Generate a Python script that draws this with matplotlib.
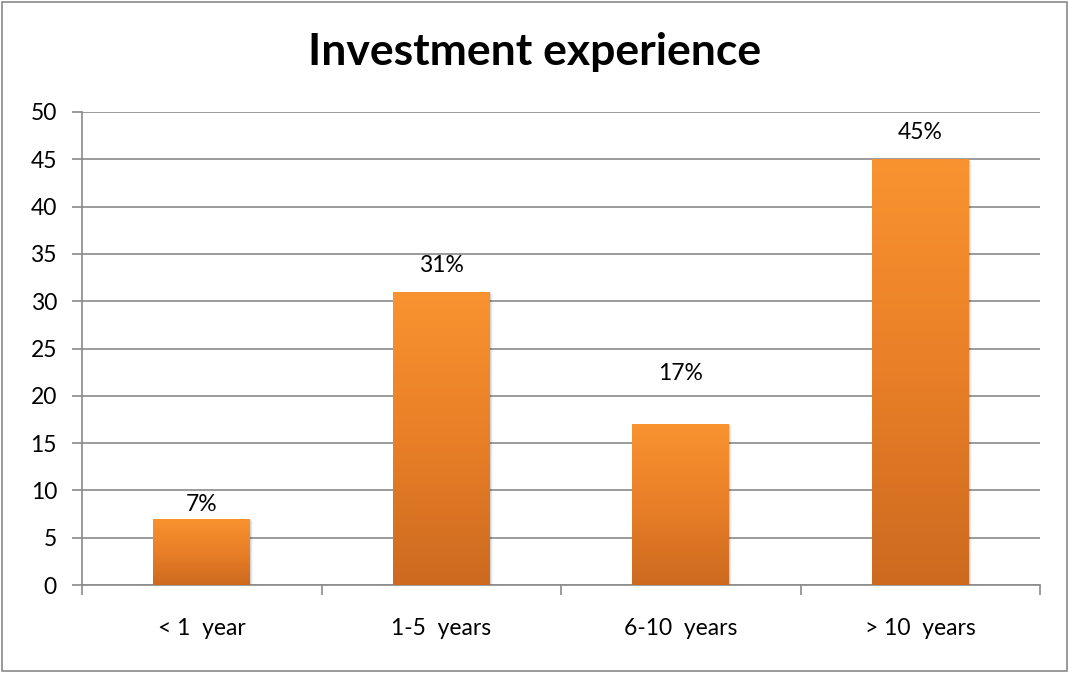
import numpy as np
import matplotlib
matplotlib.use("Agg")
import matplotlib.pyplot as plt
from matplotlib.patches import Rectangle
from matplotlib.colors import LinearSegmentedColormap

plt.rcParams['font.family'] = ['Lato', 'DejaVu Sans']

categories = ['< 1  year', '1-5  years', '6-10  years', '> 10  years']
values = [7, 31, 17, 45]
labels = ['7%', '31%', '17%', '45%']
label_offsets = [3, 11, 29, 12]  # points above bar top
yticks = [0, 5, 10, 15, 20, 25, 30, 35, 40, 45, 50]

fig = plt.figure(figsize=(10.69, 6.74), dpi=100)
ax = fig.add_axes([82 / 1069, 1 - 585 / 674, 958 / 1069, 473 / 674])

# outer chart frame
fig.patches.append(Rectangle((1.5 / 1069, 3.5 / 674), 1065 / 1069, 669 / 674,
                             transform=fig.transFigure, fill=False,
                             edgecolor='#8a8a8a', linewidth=1.2))

x = np.arange(len(categories))
bars = ax.bar(x, values, width=0.405, color='none', zorder=3)

grad = LinearSegmentedColormap.from_list('orange_grad', ['#CC6A20', '#E97F27', '#F99330'])
gimg = np.linspace(0, 1, 256).reshape(-1, 1)
for b in bars:
    x0, y0 = b.get_x(), b.get_y()
    w, h = b.get_width(), b.get_height()
    # soft drop shadow
    for k, a in enumerate([0.10, 0.06, 0.03]):
        ax.add_patch(Rectangle((x0 + 0.004 * (k + 1), y0), w, h - 0.08 * (k + 1),
                               facecolor='black', alpha=a, edgecolor='none', zorder=2))
    im = ax.imshow(gimg, extent=[x0, x0 + w, y0, y0 + h], origin='lower',
                   cmap=grad, aspect='auto', zorder=3)
    im.set_clip_path(b)

for xi, v, lab, off in zip(x, values, labels, label_offsets):
    ax.annotate(lab, (xi, v), xytext=(0, off), textcoords='offset points',
                ha='center', va='bottom', fontsize=16.5, color='black')

ax.set_xlim(-0.5, len(categories) - 0.5)
ax.set_ylim(0, 50)
ax.set_yticks(yticks)
ax.set_yticklabels([str(t) for t in yticks], fontsize=16.5)
ax.set_xticks(x)
ax.set_xticklabels(categories, fontsize=16.5)
ax.tick_params(axis='x', length=0, pad=24)
ax.set_xticks(np.arange(-0.5, len(categories)), minor=True)
ax.tick_params(axis='x', which='minor', length=7, color='#8a8a8a', width=1.2)
ax.tick_params(axis='y', length=7, color='#8a8a8a', width=1.2, pad=11)

ax.yaxis.grid(True, color='#8a8a8a', linewidth=1.2, zorder=0)
ax.set_axisbelow(True)
for s in ['top', 'right']:
    ax.spines[s].set_visible(False)
for s in ['left', 'bottom']:
    ax.spines[s].set_color('#8a8a8a')
    ax.spines[s].set_linewidth(1.2)

fig.text(535 / 1069, 1 - 52 / 674, 'Investment experience', ha='center', va='center',
         fontsize=32, fontweight='bold')

fig.savefig('out.png', dpi=100)
